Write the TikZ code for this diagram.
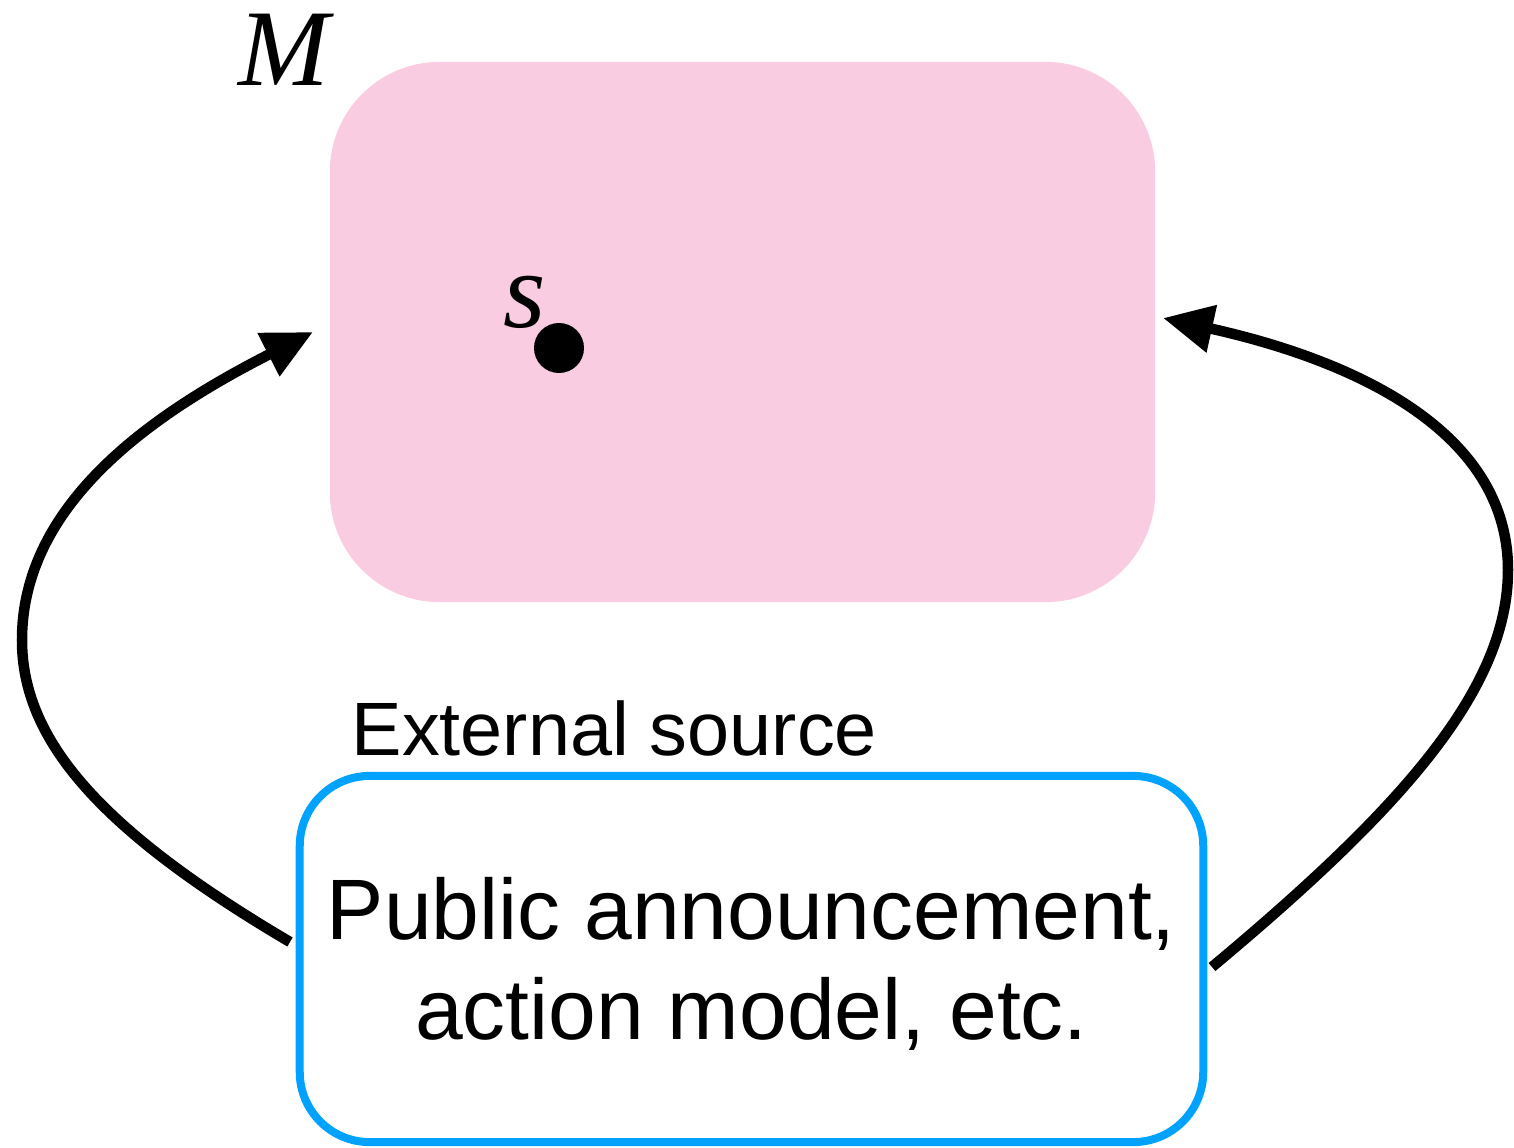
\documentclass[tikz,border=0pt]{standalone}
\usepackage{fontspec}
\setmainfont{Liberation Sans}
\newfontfamily\tmsfont{Liberation Serif}
\usetikzlibrary{arrows.meta}
\definecolor{pinkfill}{RGB}{249,204,225}
\definecolor{boxblue}{RGB}{0,162,255}
\tikzset{
  flowarrow/.style={line width=0.105cm, black, -{Triangle[length=0.5cm,width=0.46cm]}},
  mathlabel/.style={inner sep=0pt, anchor=base west, font=\tmsfont\itshape\fontsize{31pt}{31pt}\selectfont},
}
\begin{document}
\begin{tikzpicture}[x=0.01cm,y=-0.01cm]
\useasboundingbox (0,0) rectangle (1514,1148);
% pink model box
\node[fill=pinkfill, draw=none, rounded corners=1.1cm, minimum width=8.25cm, minimum height=5.4cm, inner sep=0pt] (model) at (742.5,332) {};
\node[mathlabel] (mlabel) at (238,85) {M};
% state
\node[circle, fill=black, minimum size=0.5cm, inner sep=0pt] (state) at (559,348) {};
\node[mathlabel] (slabel) at (503,327) {s};
% external source box
\node[draw=boxblue, line width=0.08cm, fill=white, rounded corners=0.7cm, minimum width=9.03cm, minimum height=3.66cm, inner sep=0pt] (source) at (751.5,959) {};
\node[inner sep=0pt, align=center, font=\fontsize{24.4pt}{28.45pt}\selectfont] (sourcetext) at (751.5,964) {Public announcement,\\action model, etc.};
\node[inner sep=0pt, anchor=base west, font=\fontsize{21.5pt}{21.5pt}\selectfont] (sourcelabel) at (351,755) {External source};
% connector end points
\coordinate (lstart) at (290,942);
\coordinate (lend) at (313,332);
\coordinate (rstart) at (1212,967);
\coordinate (rend) at (1163,318);
\draw[flowarrow] (lstart) .. controls (100,830) and (22,740) .. (22,640) .. controls (22,500) and (160,410) .. (lend);
\draw[flowarrow] (rstart) .. controls (1400,810) and (1508,690) .. (1508,570) .. controls (1508,420) and (1330,355) .. (rend);
\end{tikzpicture}
\end{document}
